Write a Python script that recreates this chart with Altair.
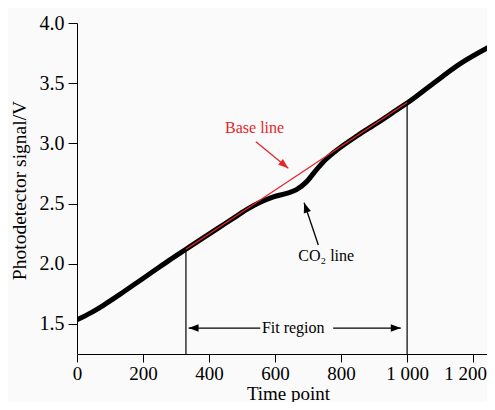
import altair as alt
import pandas as pd

# ---- data ----
time_points = [0, 40, 80, 130, 180, 230, 280, 330, 380, 430, 480, 520, 555, 595,
               635, 665, 695, 725, 755, 790, 850, 910, 970, 1000, 1080, 1160, 1262]
signal = [1.535, 1.59, 1.655, 1.745, 1.84, 1.935, 2.03, 2.12, 2.21, 2.30, 2.39, 2.46,
          2.51, 2.555, 2.585, 2.615, 2.68, 2.78, 2.87, 2.95, 3.065, 3.17, 3.28, 3.335,
          3.50, 3.66, 3.82]

base_t = [330, 1000]
base_v = [2.12, 3.34]

fit_t = [330, 1000]
fit_top = [2.12, 3.34]
y_floor = 1.25
x_max = 1242

x_ticks = [0, 200, 400, 600, 800, 1000, 1200]
y_ticks = [1.5, 2.0, 2.5, 3.0, 3.5, 4.0]

# annotation arrows: tail (t, v) -> tip (t2, v2)
arrow_t = [555, 776, 542, 731]
arrow_v = [1.465, 1.465, 3.014, 2.156]
arrow_t2 = [338, 981, 640, 688]
arrow_v2 = [1.465, 1.465, 2.793, 2.507]
arrow_angle = [180, 0, 39.5, 251]
arrow_color = ["black", "black", "#e3262b", "black"]

label_text = ["Base line", "Fit region", "CO\u2082 line"]
label_t = [538, 655, 755]
label_v = [3.125, 1.465, 2.067]
label_color = ["#e3262b", "black", "black"]

# ---- tables ----
curve = pd.DataFrame({"t": time_points, "v": signal})
base = pd.DataFrame({"t": base_t, "v": base_v})
fit = pd.DataFrame({"t": fit_t, "v": fit_top, "v0": [y_floor] * len(fit_t)})
arrows = pd.DataFrame({"t": arrow_t, "v": arrow_v, "t2": arrow_t2, "v2": arrow_v2,
                       "angle": arrow_angle, "color": arrow_color})
labels = pd.DataFrame({"t": label_t, "v": label_v, "text": label_text, "color": label_color})

FONT = "Liberation Serif"
xs = alt.Scale(domain=[0, x_max], nice=False, zero=False)
ys = alt.Scale(domain=[y_floor, 4.0], nice=False, zero=False)

x_axis = alt.Axis(values=x_ticks, grid=False, domainColor="black", tickColor="black",
                  tickSize=8, labelPadding=2, labelFontSize=19, labelFont=FONT,
                  labelColor="black", labelFlush=False, labelOverlap=False,
                  labelOffset={"condition": {"test": "datum.value == 1200", "value": -8},
                               "value": 0},
                  labelExpr="datum.value >= 1000 ? floor(datum.value/1000) + ' ' + format(datum.value % 1000, '03d') : datum.label",
                  titleFont=FONT, titleFontSize=19, titleFontWeight="normal",
                  titleColor="black", titleX=211, titleY=45, titleBaseline="alphabetic",
                  titleAlign="center")
y_axis = alt.Axis(values=y_ticks, format=".1f", grid=False, domainColor="black",
                  tickColor="black", tickSize=9, labelPadding=4, labelFontSize=20,
                  labelFont=FONT, labelColor="black", labelFlush=False, labelOverlap=False,
                  titleFont=FONT, titleFontSize=19.5, titleFontWeight="normal",
                  titleColor="black", titleAngle=-90, titleX=-58, titleY=167,
                  titleBaseline="middle", titleAlign="center")


def X(field):
    return alt.X(field, type="quantitative", scale=xs, axis=x_axis, title="Time point")


def Y(field):
    return alt.Y(field, type="quantitative", scale=ys, axis=y_axis,
                 title="Photodetector signal/V")


curve_layer = alt.Chart(curve).mark_line(
    color="black", strokeWidth=5, strokeCap="round", interpolate="monotone", clip=True
).encode(x=X("t"), y=Y("v"))

base_layer = alt.Chart(base).mark_line(color="#e3262b", strokeWidth=1.3).encode(
    x=X("t"), y=Y("v"))

fit_layer = alt.Chart(fit).mark_rule(color="black", strokeWidth=1.2).encode(
    x=X("t"), y=Y("v0"), y2="v")

arrow_lines = alt.Chart(arrows).mark_rule(strokeWidth=1.3).encode(
    x=X("t"), y=Y("v"), x2="t2", y2="v2",
    color=alt.Color("color:N", scale=None))

arrow_heads = alt.Chart(arrows).mark_point(
    shape="M0,0L-2,-0.75L-2,0.75Z", filled=True, size=100, opacity=1, strokeWidth=0
).encode(x=X("t2"), y=Y("v2"), angle=alt.Angle("angle:Q", scale=None),
         color=alt.Color("color:N", scale=None))

text_layer = alt.Chart(labels).mark_text(
    font=FONT, fontSize=16, align="center", baseline="middle"
).encode(x=X("t"), y=Y("v"), text="text:N", color=alt.Color("color:N", scale=None))

chart = alt.layer(fit_layer, curve_layer, base_layer, arrow_lines, arrow_heads,
                  text_layer).properties(
    width=410, height=331,
    autosize=alt.AutoSizeParams(type="none"),
    padding={"left": 69, "top": 15, "right": 0, "bottom": 48},
    background="#fafafa",
).configure_view(stroke=None)

chart.save("out.html", embed_options={"renderer": "svg", "actions": False})
